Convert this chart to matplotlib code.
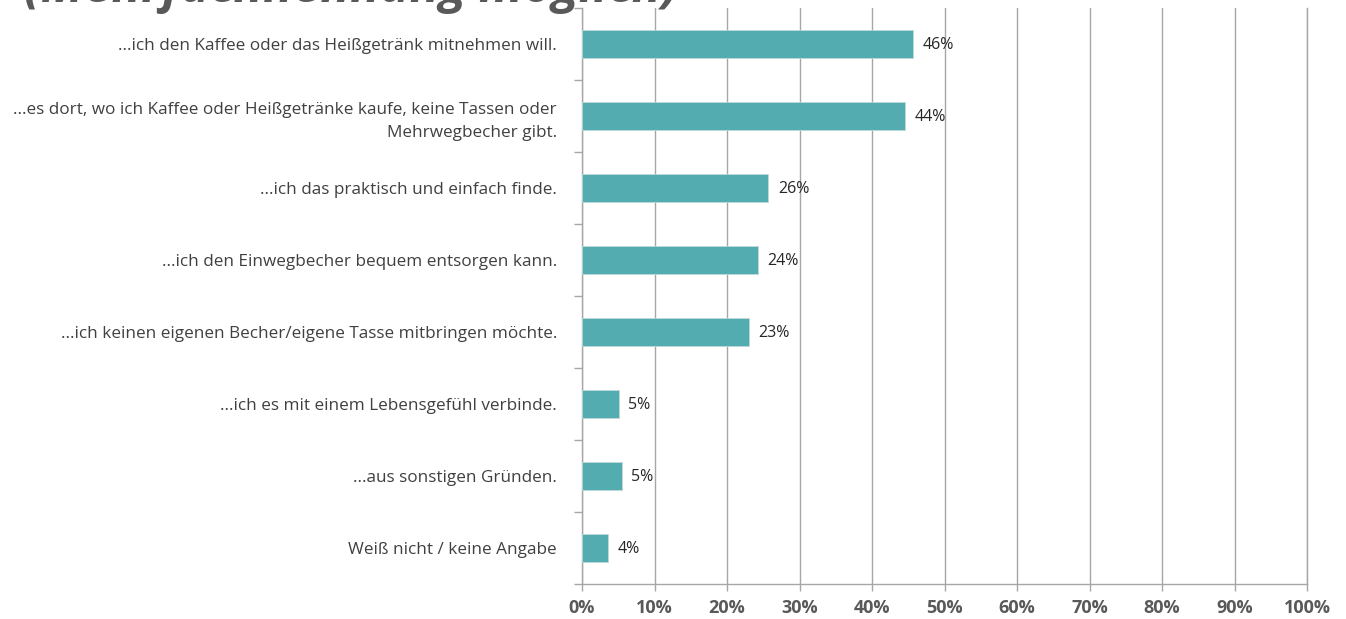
import numpy as np
import matplotlib.pyplot as plt
from matplotlib.ticker import FixedLocator, PercentFormatter

categories = [
    "...ich den Kaffee oder das Heißgetränk mitnehmen will.",
    "...es dort, wo ich Kaffee oder Heißgetränke kaufe, keine Tassen oder\nMehrwegbecher gibt.",
    "...ich das praktisch und einfach finde.",
    "...ich den Einwegbecher bequem entsorgen kann.",
    "...ich keinen eigenen Becher/eigene Tasse mitbringen möchte.",
    "...ich es mit einem Lebensgefühl verbinde.",
    "...aus sonstigen Gründen.",
    "Weiß nicht / keine Angabe",
]
values = [45.7, 44.6, 25.7, 24.3, 23.0, 5.1, 5.5, 3.6]
value_labels = ["46%", "44%", "26%", "24%", "23%", "5%", "5%", "4%"]
xticks = np.arange(0, 101, 10)

plt.rcParams['font.family'] = ['Open Sans', 'DejaVu Sans']

fig = plt.figure(figsize=(13.46, 6.19), dpi=100)
ax = fig.add_axes([0.4324, 0.0565, 0.5387, 0.9305])

grid_col = "#A6A6A6"
y = np.arange(len(categories))
ax.barh(y, values, height=0.4, color="#52ACB0", edgecolor="#BFD9DA", linewidth=0.6, zorder=3)

for yi, v, lab in zip(y, values, value_labels):
    ax.text(v + 1.3, yi + 0.02, lab, va="center", ha="left", fontsize=11.5, color="#262626", zorder=4)

ax.set_xlim(0, 100)
ax.set_ylim(len(categories) - 0.5, -0.5)
ax.set_xticks(xticks)
ax.xaxis.set_major_formatter(PercentFormatter(decimals=0))
ax.set_yticks(y)
ax.set_yticklabels(categories, fontsize=12.3, color="#404040", ha="right", linespacing=1.55)
ax.yaxis.set_minor_locator(FixedLocator(np.arange(-0.5, len(categories), 1.0)))
ax.tick_params(axis="y", which="major", length=0, pad=18)
ax.tick_params(axis="y", which="minor", length=6, color=grid_col, width=1)
ax.tick_params(axis="x", which="major", length=5, color=grid_col, width=1, pad=6,
               labelsize=13, labelcolor="#595959")
for t in ax.get_xticklabels():
    t.set_fontweight("bold")

ax.grid(axis="x", color=grid_col, linewidth=1, zorder=0)
ax.set_axisbelow(True)
ax.spines["top"].set_visible(False)
for side in ["left", "bottom", "right"]:
    ax.spines[side].set_color(grid_col)
    ax.spines[side].set_linewidth(1)

# title, cut off at the top of the picture as in the original
fig.text(0.018, 1 - 2 / 619, "(Mehrfachnennung möglich)", fontsize=35.5, fontweight="bold",
         fontstyle="italic", color="#595959", va="baseline", ha="left")

fig.savefig("out.png", dpi=100)
